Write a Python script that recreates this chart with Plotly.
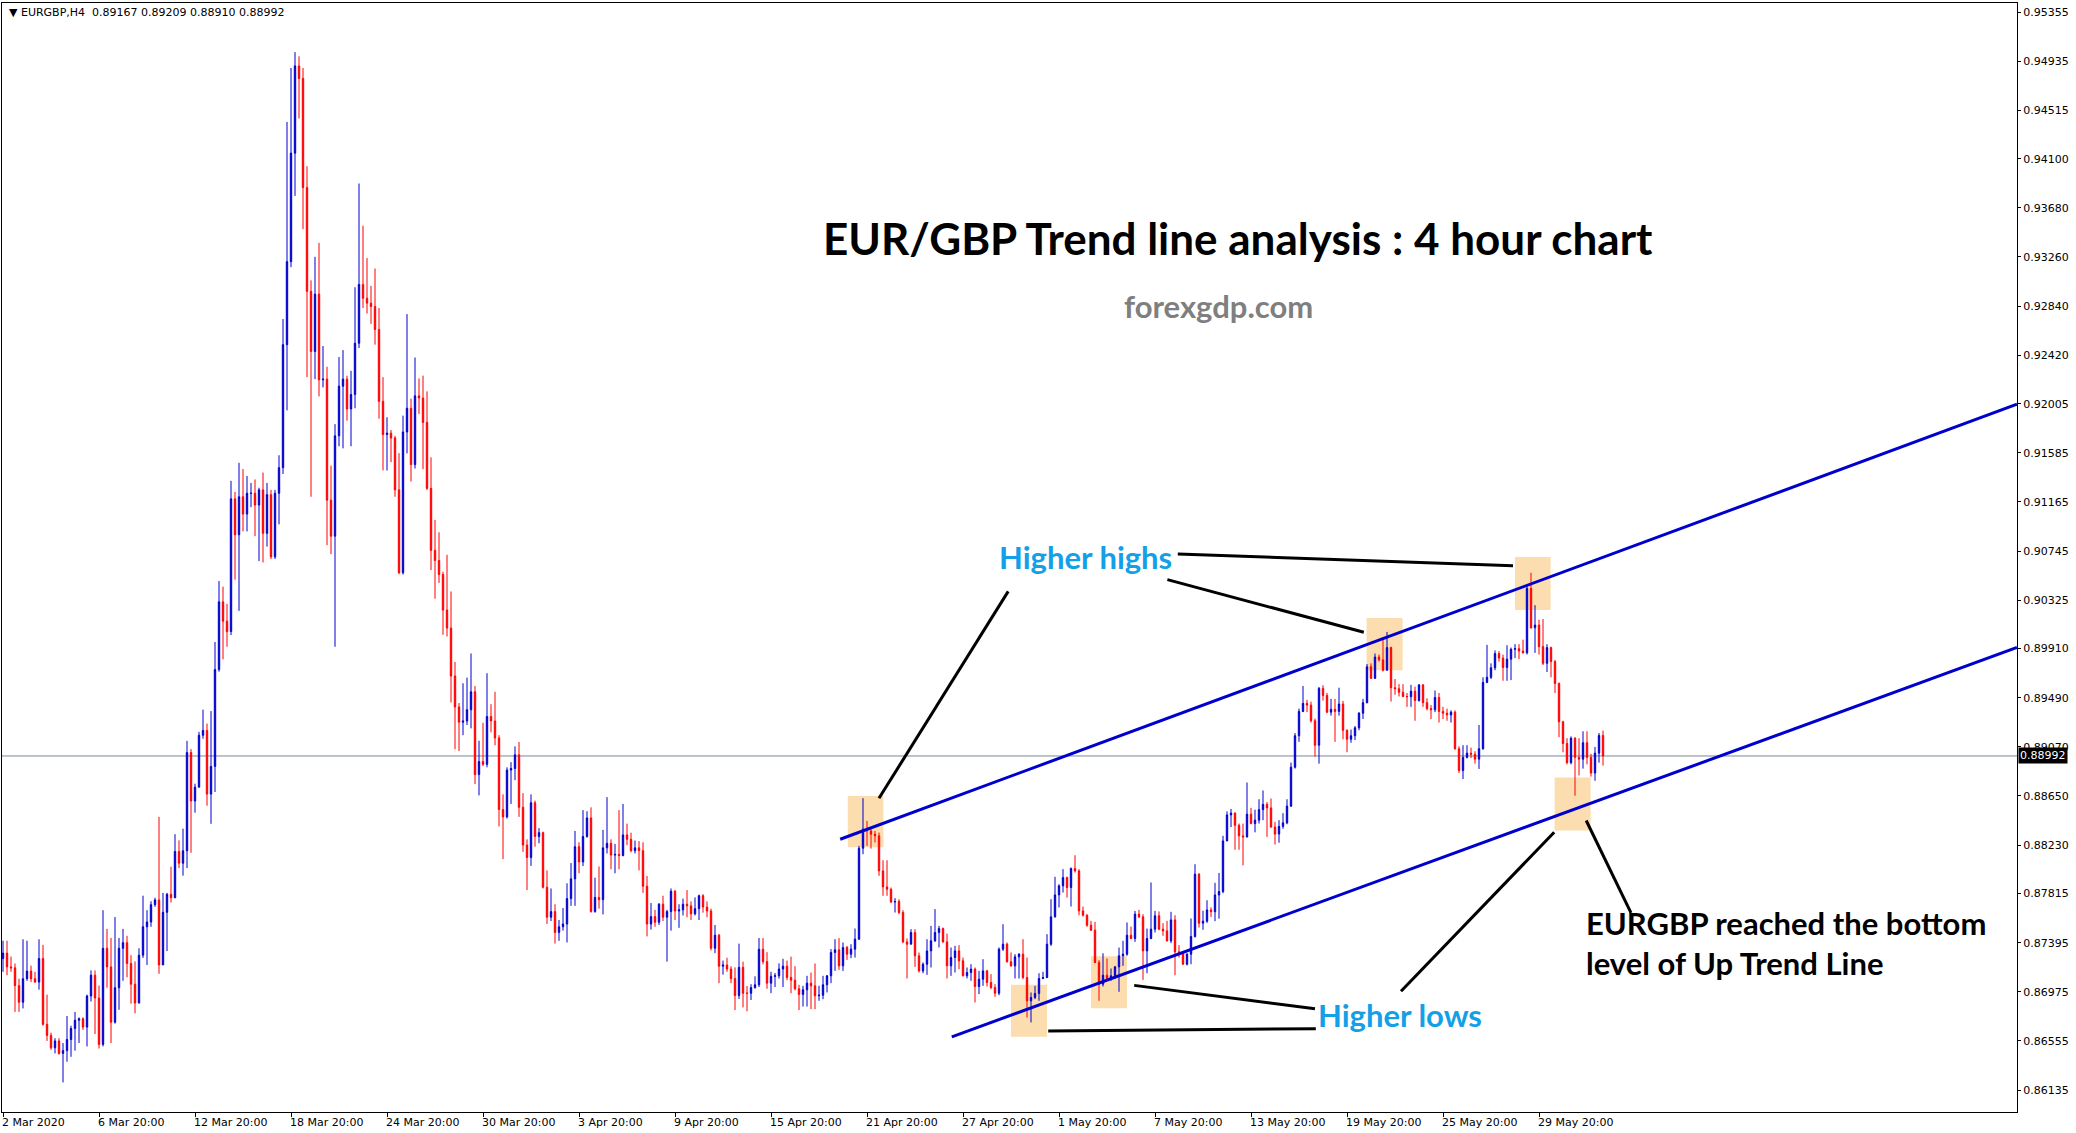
import plotly.graph_objects as go

# ---- EURGBP H4 candles (bar 0 = 2 Mar 2020 20:00) ----
first_open = 0.87259

closes = [
    0.87306, 0.87188, 0.87180, 0.87028, 0.86886, 0.87087, 0.87152, 0.87087, 0.87058, 0.87259,
    0.86697, 0.86602, 0.86496, 0.86555, 0.86448, 0.86472, 0.86567, 0.86661, 0.86732, 0.86744,
    0.86673, 0.86939, 0.87117, 0.86922, 0.86525, 0.87347, 0.87188, 0.86715, 0.87010, 0.87347,
    0.87395, 0.87217, 0.87040, 0.86880, 0.87288, 0.87531, 0.87572, 0.87720, 0.87761, 0.87205,
    0.87655, 0.87809, 0.87779, 0.88175, 0.88075, 0.88181, 0.89021, 0.88607, 0.88725, 0.89169,
    0.89210, 0.88666, 0.88903, 0.89731, 0.90310, 0.90145, 0.90056, 0.91191, 0.90884, 0.91209,
    0.91061, 0.91239, 0.91239, 0.91138, 0.91268, 0.90896, 0.91227, 0.90695, 0.91239, 0.91458,
    0.92510, 0.93220, 0.94148, 0.94894, 0.94787, 0.93853, 0.92966, 0.92451, 0.92942, 0.92209,
    0.92215, 0.91180, 0.90872, 0.91730, 0.92155, 0.92215, 0.91960, 0.92084, 0.92522, 0.93025,
    0.92907, 0.92865, 0.92836, 0.92640, 0.92025, 0.91741, 0.91753, 0.91712, 0.91268, 0.90559,
    0.91763, 0.91966, 0.91484, 0.92072, 0.92053, 0.91845, 0.91281, 0.90751, 0.90664, 0.90544,
    0.90240, 0.90086, 0.89676, 0.89411, 0.89281, 0.89291, 0.89387, 0.89541, 0.88833, 0.88944,
    0.88920, 0.89329, 0.89291, 0.89146, 0.88534, 0.88471, 0.88871, 0.88885, 0.89002, 0.88553,
    0.88230, 0.88124, 0.88592, 0.88303, 0.88336, 0.87869, 0.87613, 0.87661, 0.87483, 0.87531,
    0.87555, 0.87772, 0.87941, 0.88216, 0.88086, 0.88303, 0.88462, 0.87661, 0.87782, 0.87763,
    0.88206, 0.88245, 0.88144, 0.88150, 0.88140, 0.88317, 0.88279, 0.88182, 0.88206, 0.88182,
    0.87878, 0.87555, 0.87618, 0.87570, 0.87724, 0.87613, 0.87661, 0.87835, 0.87666, 0.87676,
    0.87724, 0.87710, 0.87642, 0.87686, 0.87797, 0.87700, 0.87666, 0.87348, 0.87459, 0.87194,
    0.87204, 0.87170, 0.87088, 0.86943, 0.87184, 0.86963, 0.86963, 0.87011, 0.87035, 0.87339,
    0.87233, 0.87049, 0.87107, 0.87112, 0.87170, 0.87194, 0.87098, 0.87074, 0.87001, 0.86953,
    0.86992, 0.87049, 0.87026, 0.86941, 0.86946, 0.87035, 0.87112, 0.87311, 0.87334, 0.87197,
    0.87354, 0.87297, 0.87340, 0.87425, 0.88203, 0.88366, 0.88351, 0.88323, 0.88309, 0.88009,
    0.87872, 0.87852, 0.87744, 0.87747, 0.87653, 0.87402, 0.87382, 0.87482, 0.87283, 0.87154,
    0.87211, 0.87325, 0.87411, 0.87482, 0.87516, 0.87402, 0.87197, 0.87268, 0.87325, 0.87240,
    0.87112, 0.87140, 0.87169, 0.87020, 0.87083, 0.87154, 0.87055, 0.87012, 0.86963, 0.87340,
    0.87382, 0.87231, 0.87197, 0.87274, 0.87297, 0.87097, 0.86898, 0.86926, 0.86961, 0.87089,
    0.87097, 0.87382, 0.87616, 0.87804, 0.87881, 0.87952, 0.87867, 0.88029, 0.88009, 0.87667,
    0.87630, 0.87545, 0.87502, 0.87226, 0.87040, 0.87117, 0.87089, 0.87112, 0.87188, 0.87283,
    0.87297, 0.87459, 0.87431, 0.87639, 0.87616, 0.87325, 0.87431, 0.87511, 0.87625, 0.87511,
    0.87496, 0.87411, 0.87590, 0.87317, 0.87311, 0.87211, 0.87297, 0.87448, 0.87981, 0.87562,
    0.87579, 0.87675, 0.87660, 0.87803, 0.87833, 0.88265, 0.88488, 0.88503, 0.88399, 0.88309,
    0.88300, 0.88494, 0.88414, 0.88443, 0.88533, 0.88578, 0.88548, 0.88384, 0.88324, 0.88390,
    0.88420, 0.88563, 0.88896, 0.89165, 0.89373, 0.89442, 0.89427, 0.89293, 0.89084, 0.89570,
    0.89510, 0.89367, 0.89391, 0.89373, 0.89436, 0.89212, 0.89135, 0.89165, 0.89233, 0.89358,
    0.89448, 0.89755, 0.89656, 0.89838, 0.89814, 0.89725, 0.89919, 0.89576, 0.89567, 0.89537,
    0.89501, 0.89499, 0.89546, 0.89466, 0.89600, 0.89448, 0.89397, 0.89388, 0.89492, 0.89373,
    0.89358, 0.89343, 0.89367, 0.89054, 0.88867, 0.88980, 0.89016, 0.89007, 0.88965, 0.89054,
    0.89621, 0.89665, 0.89746, 0.89868, 0.89829, 0.89749, 0.89820, 0.89904, 0.89910, 0.89889,
    0.89874, 0.90425, 0.90088, 0.90112, 0.89927, 0.89784, 0.89919, 0.89799, 0.89612, 0.89284,
    0.89099, 0.88935, 0.89144, 0.88980, 0.88965, 0.89105, 0.88980, 0.88846, 0.89016, 0.89167,
    0.88992,
]

highs = [
    0.87412, 0.87412, 0.87276, 0.87217, 0.87087, 0.87424, 0.87412, 0.87199, 0.87146, 0.87424,
    0.87377, 0.86951, 0.86626, 0.86578, 0.86578, 0.86537, 0.86768, 0.86685, 0.86803, 0.86756,
    0.86756, 0.86951, 0.87158, 0.87158, 0.87028, 0.87673, 0.87513, 0.87436, 0.87614, 0.87436,
    0.87513, 0.87454, 0.87288, 0.87235, 0.87347, 0.87797, 0.87673, 0.87750, 0.87779, 0.88471,
    0.87821, 0.87821, 0.88045, 0.88323, 0.88270, 0.88370, 0.89121, 0.89051, 0.88755, 0.89198,
    0.89388, 0.89269, 0.89376, 0.89967, 0.90488, 0.90440, 0.90293, 0.91345, 0.91251, 0.91499,
    0.91446, 0.91387, 0.91327, 0.91357, 0.91286, 0.91416, 0.91327, 0.91268, 0.91268, 0.91564,
    0.92729, 0.94415, 0.94876, 0.95012, 0.94976, 0.94876, 0.94036, 0.93060, 0.93261, 0.93380,
    0.92498, 0.92321, 0.91475, 0.91830, 0.92404, 0.92463, 0.92244, 0.92286, 0.93001, 0.93888,
    0.93527, 0.93250, 0.93013, 0.93161, 0.92824, 0.92232, 0.91889, 0.91780, 0.91730, 0.91582,
    0.91903, 0.92771, 0.92048, 0.92400, 0.92221, 0.92245, 0.92110, 0.91546, 0.91011, 0.90905,
    0.90568, 0.90713, 0.90399, 0.89797, 0.89445, 0.89614, 0.89662, 0.89869, 0.89590, 0.89122,
    0.89276, 0.89700, 0.89435, 0.89541, 0.89170, 0.88664, 0.88895, 0.88939, 0.89074, 0.89112,
    0.88674, 0.88279, 0.88664, 0.88610, 0.88375, 0.88345, 0.88013, 0.87859, 0.87724, 0.87589,
    0.87691, 0.87903, 0.88076, 0.88351, 0.88254, 0.88529, 0.88519, 0.88553, 0.87951, 0.88047,
    0.88360, 0.88640, 0.88279, 0.88240, 0.88529, 0.88582, 0.88413, 0.88336, 0.88269, 0.88264,
    0.88254, 0.87965, 0.87734, 0.87676, 0.87734, 0.87797, 0.87676, 0.87859, 0.87845, 0.87724,
    0.87772, 0.87845, 0.87748, 0.87782, 0.87806, 0.87810, 0.87748, 0.87686, 0.87546, 0.87470,
    0.87242, 0.87266, 0.87194, 0.87184, 0.87387, 0.87233, 0.87025, 0.87040, 0.87107, 0.87435,
    0.87435, 0.87314, 0.87146, 0.87136, 0.87218, 0.87257, 0.87242, 0.87276, 0.87194, 0.87035,
    0.87026, 0.87112, 0.87140, 0.87217, 0.87026, 0.87112, 0.87117, 0.87340, 0.87425, 0.87434,
    0.87397, 0.87368, 0.87382, 0.87516, 0.88223, 0.88631, 0.88437, 0.88366, 0.88351, 0.88337,
    0.88100, 0.88100, 0.87867, 0.87776, 0.87767, 0.87673, 0.87431, 0.87511, 0.87511, 0.87311,
    0.87226, 0.87425, 0.87539, 0.87682, 0.87539, 0.87525, 0.87473, 0.87354, 0.87368, 0.87374,
    0.87268, 0.87183, 0.87211, 0.87183, 0.87154, 0.87254, 0.87163, 0.87126, 0.87040, 0.87354,
    0.87553, 0.87397, 0.87311, 0.87297, 0.87305, 0.87425, 0.87268, 0.86969, 0.87026, 0.87134,
    0.87146, 0.87468, 0.87767, 0.87958, 0.87895, 0.88024, 0.87960, 0.88038, 0.88143, 0.88024,
    0.87704, 0.87639, 0.87582, 0.87573, 0.87246, 0.87305, 0.87260, 0.87174, 0.87197, 0.87354,
    0.87411, 0.87568, 0.87533, 0.87667, 0.87676, 0.87639, 0.87516, 0.87910, 0.87667, 0.87662,
    0.87562, 0.87582, 0.87659, 0.87630, 0.87374, 0.87317, 0.87305, 0.87602, 0.88066, 0.87990,
    0.87669, 0.87758, 0.87698, 0.87907, 0.87991, 0.88309, 0.88518, 0.88539, 0.88510, 0.88414,
    0.88414, 0.88765, 0.88548, 0.88533, 0.88622, 0.88697, 0.88598, 0.88628, 0.88429, 0.88443,
    0.88503, 0.88622, 0.88935, 0.89188, 0.89397, 0.89591, 0.89472, 0.89457, 0.89312, 0.89582,
    0.89597, 0.89531, 0.89480, 0.89480, 0.89576, 0.89463, 0.89218, 0.89218, 0.89248, 0.89367,
    0.89480, 0.89778, 0.89784, 0.89868, 0.89859, 0.90008, 0.90053, 0.89927, 0.89650, 0.89606,
    0.89606, 0.89531, 0.89600, 0.89585, 0.89606, 0.89606, 0.89486, 0.89427, 0.89552, 0.89531,
    0.89412, 0.89397, 0.89382, 0.89382, 0.89075, 0.89084, 0.89084, 0.89063, 0.89033, 0.89257,
    0.89665, 0.89942, 0.89784, 0.89895, 0.89889, 0.89859, 0.89939, 0.89919, 0.89948, 0.89948,
    0.89987, 0.90446, 0.90559, 0.90282, 0.90157, 0.90163, 0.89948, 0.89927, 0.89814, 0.89621,
    0.89293, 0.89144, 0.89159, 0.89153, 0.89144, 0.89203, 0.89203, 0.89010, 0.89069, 0.89188,
    0.89209,
]

lows = [
    0.87146, 0.87117, 0.87146, 0.86803, 0.86803, 0.86833, 0.87069, 0.87058, 0.87052, 0.86993,
    0.86685, 0.86555, 0.86478, 0.86448, 0.86437, 0.86200, 0.86377, 0.86419, 0.86472, 0.86537,
    0.86649, 0.86508, 0.86892, 0.86614, 0.86490, 0.86508, 0.87010, 0.86537, 0.86703, 0.86821,
    0.87069, 0.87099, 0.86874, 0.86791, 0.86874, 0.87265, 0.87205, 0.87531, 0.87702, 0.87129,
    0.87205, 0.87324, 0.87738, 0.87779, 0.88033, 0.87968, 0.88033, 0.88164, 0.88507, 0.88743,
    0.89139, 0.88566, 0.88412, 0.88684, 0.89713, 0.89819, 0.89926, 0.90026, 0.90500, 0.90233,
    0.90913, 0.90913, 0.91120, 0.90872, 0.90659, 0.90647, 0.90783, 0.90677, 0.90677, 0.90973,
    0.91404, 0.91948, 0.93173, 0.93782, 0.94444, 0.93498, 0.92232, 0.91209, 0.92215, 0.92067,
    0.92144, 0.90795, 0.90718, 0.89926, 0.91641, 0.91623, 0.91860, 0.91641, 0.91966, 0.92481,
    0.92824, 0.92776, 0.92688, 0.92510, 0.91877, 0.91434, 0.91434, 0.91505, 0.91209, 0.90547,
    0.90544, 0.91580, 0.91339, 0.91450, 0.91918, 0.91445, 0.91267, 0.90582, 0.90337, 0.90472,
    0.90028, 0.90014, 0.89450, 0.89050, 0.89035, 0.89170, 0.89257, 0.89228, 0.88751, 0.88655,
    0.88905, 0.88895, 0.89194, 0.89083, 0.88389, 0.88110, 0.88457, 0.88582, 0.88785, 0.88471,
    0.88172, 0.87845, 0.88052, 0.88216, 0.88245, 0.87859, 0.87555, 0.87580, 0.87387, 0.87411,
    0.87498, 0.87397, 0.87710, 0.87710, 0.87989, 0.88050, 0.88293, 0.87652, 0.87652, 0.87686,
    0.87637, 0.88158, 0.88023, 0.87989, 0.88023, 0.88134, 0.88230, 0.88168, 0.88158, 0.88013,
    0.87821, 0.87449, 0.87507, 0.87531, 0.87546, 0.87580, 0.87233, 0.87498, 0.87589, 0.87522,
    0.87628, 0.87613, 0.87589, 0.87628, 0.87589, 0.87652, 0.87613, 0.87329, 0.87305, 0.87049,
    0.87122, 0.87146, 0.87049, 0.86818, 0.86914, 0.86842, 0.86808, 0.86905, 0.87001, 0.87016,
    0.87209, 0.87001, 0.86963, 0.87016, 0.87088, 0.87016, 0.87074, 0.86963, 0.86987, 0.86818,
    0.86849, 0.86849, 0.86827, 0.86827, 0.86898, 0.86912, 0.86969, 0.87049, 0.87154, 0.87163,
    0.87154, 0.87248, 0.87263, 0.87268, 0.87419, 0.88152, 0.88223, 0.88200, 0.88252, 0.87967,
    0.87796, 0.87796, 0.87733, 0.87653, 0.87639, 0.87391, 0.87089, 0.87382, 0.87188, 0.87140,
    0.87134, 0.87120, 0.87183, 0.87402, 0.87354, 0.87395, 0.87089, 0.87112, 0.87140, 0.87169,
    0.87106, 0.87089, 0.87069, 0.86884, 0.86955, 0.87026, 0.87020, 0.86997, 0.86932, 0.86946,
    0.87325, 0.87226, 0.87190, 0.87089, 0.87089, 0.87083, 0.86755, 0.86713, 0.86912, 0.86898,
    0.87083, 0.87092, 0.87368, 0.87610, 0.87696, 0.87824, 0.87781, 0.87704, 0.87995, 0.87630,
    0.87619, 0.87530, 0.87496, 0.87220, 0.86898, 0.87020, 0.87083, 0.87069, 0.87089, 0.86975,
    0.87197, 0.87283, 0.87425, 0.87402, 0.87605, 0.87077, 0.87134, 0.87425, 0.87482, 0.87502,
    0.87454, 0.87405, 0.87391, 0.87117, 0.87268, 0.87206, 0.87200, 0.87211, 0.87439, 0.87525,
    0.87505, 0.87564, 0.87615, 0.87579, 0.87600, 0.87818, 0.88265, 0.88384, 0.88190, 0.88190,
    0.88056, 0.88294, 0.88408, 0.88339, 0.88414, 0.88443, 0.88300, 0.88378, 0.88235, 0.88250,
    0.88369, 0.88408, 0.88557, 0.88884, 0.89113, 0.89367, 0.89367, 0.89278, 0.88986, 0.88926,
    0.89466, 0.89358, 0.89337, 0.89113, 0.89337, 0.89135, 0.89024, 0.89105, 0.89129, 0.89212,
    0.89308, 0.89442, 0.89650, 0.89650, 0.89799, 0.89715, 0.89725, 0.89457, 0.89516, 0.89501,
    0.89495, 0.89412, 0.89412, 0.89293, 0.89457, 0.89412, 0.89382, 0.89308, 0.89367, 0.89278,
    0.89308, 0.89293, 0.89278, 0.89045, 0.88846, 0.88795, 0.88971, 0.88974, 0.88926, 0.88881,
    0.89045, 0.89615, 0.89650, 0.89725, 0.89799, 0.89635, 0.89635, 0.89641, 0.89829, 0.89820,
    0.89868, 0.89860, 0.90080, 0.89874, 0.89859, 0.89770, 0.89710, 0.89665, 0.89531, 0.89153,
    0.89024, 0.88920, 0.88920, 0.88652, 0.88825, 0.88884, 0.88920, 0.88816, 0.88780, 0.88935,
    0.88910,
]

# time axis labels (one every 24 bars) and price axis labels
time_ticks = [0, 24, 48, 72, 96, 120, 144, 168, 192, 216, 240, 264, 288, 312, 336, 360, 384]
time_labels = ["2 Mar 2020", "6 Mar 20:00", "12 Mar 20:00", "18 Mar 20:00", "24 Mar 20:00",
               "30 Mar 20:00", "3 Apr 20:00", "9 Apr 20:00", "15 Apr 20:00", "21 Apr 20:00",
               "27 Apr 20:00", "1 May 20:00", "7 May 20:00", "13 May 20:00", "19 May 20:00",
               "25 May 20:00", "29 May 20:00"]
price_ticks = [0.95355, 0.94935, 0.94515, 0.94100, 0.93680, 0.93260, 0.92840, 0.92420,
               0.92005, 0.91585, 0.91165, 0.90745, 0.90325, 0.89910, 0.89490, 0.89070,
               0.88650, 0.88230, 0.87815, 0.87395, 0.86975, 0.86555, 0.86135]

# drawn analysis objects (bar index, price)
upper_trend = [(209.3, 0.8828), (503.5, 0.9200)]
lower_trend = [(237.2, 0.8659), (503.5, 0.8992)]
touch_boxes = [  # x0, x1, y0, y1
    (211.2, 220.1, 0.88212, 0.88650),
    (252.0, 261.0, 0.86590, 0.87035),
    (272.0, 281.0, 0.86835, 0.87280),
    (340.9, 349.9, 0.89725, 0.90172),
    (378.0, 386.9, 0.90240, 0.90693),
    (387.9, 396.9, 0.88354, 0.88807),
]
pointer_lines = [
    ((219.0, 0.8863), (251.3, 0.9040)),
    ((291.1, 0.9050), (340.2, 0.9005)),
    ((293.7, 0.9072), (377.5, 0.9062)),
    ((282.8, 0.8703), (328.0, 0.8683)),
    ((261.3, 0.8664), (328.2, 0.8666)),
    ((349.5, 0.8698), (387.8, 0.8834)),
    ((395.8, 0.8844), (407.0, 0.8765)),
]

BULL = "#0000CD"
BEAR = "#FF0000"
CALLOUT = "#13A0E6"

opens = [first_open] + closes[:-1]
bars = list(range(len(closes)))
highs = [max(h, o, c) for h, o, c in zip(highs, opens, closes)]
lows = [min(l, o, c) for l, o, c in zip(lows, opens, closes)]

fig = go.Figure(go.Candlestick(
    x=bars, open=opens, high=highs, low=lows, close=closes,
    increasing=dict(line=dict(color=BULL, width=1), fillcolor=BULL),
    decreasing=dict(line=dict(color=BEAR, width=1), fillcolor=BEAR),
    whiskerwidth=0, hoverinfo="skip", showlegend=False,
))

shapes = []
for x0, x1, y0, y1 in touch_boxes:
    shapes.append(dict(type="rect", xref="x", yref="y", x0=x0, x1=x1, y0=y0, y1=y1,
                       fillcolor="#FCDDB0", line=dict(width=0), layer="below"))
shapes.append(dict(type="line", xref="paper", yref="y", x0=0, x1=1, y0=closes[-1], y1=closes[-1],
                   line=dict(color="#778899", width=1), layer="below"))
for (xa, ya), (xb, yb) in [upper_trend, lower_trend]:
    shapes.append(dict(type="line", xref="x", yref="y", x0=xa, y0=ya, x1=xb, y1=yb,
                       line=dict(color=BULL, width=3)))
for (xa, ya), (xb, yb) in pointer_lines:
    shapes.append(dict(type="line", xref="x", yref="y", x0=xa, y0=ya, x1=xb, y1=yb,
                       line=dict(color="black", width=3)))

ann = []
for b, t in zip(time_ticks, time_labels):
    ann.append(dict(x=b, y=0, xref="x", yref="paper", text=t, showarrow=False,
                    xanchor="left", yanchor="top", xshift=-3, yshift=-2,
                    font=dict(family="DejaVu Sans", size=11, color="black")))
header = "\u25BC EURGBP,H4\u00a0\u00a0{:.5f} {:.5f} {:.5f} {:.5f}".format(
    opens[-1], highs[-1], lows[-1], closes[-1])
ann.append(dict(x=0.0025, y=0.991, xref="paper", yref="paper", text=header, showarrow=False,
                xanchor="left", yanchor="middle",
                font=dict(family="DejaVu Sans", size=11, color="black")))
ann.append(dict(x=1, y=closes[-1], xref="paper", yref="y", text="{:.5f}".format(closes[-1]),
                showarrow=False, xanchor="left", yanchor="middle", xshift=1,
                bgcolor="black", borderpad=1,
                font=dict(family="DejaVu Sans", size=11, color="white")))


def label(x, y, text, size, color, xanchor="center", align="center"):
    ann.append(dict(x=x, y=y, xref="paper", yref="paper", text=text, showarrow=False,
                    xanchor=xanchor, yanchor="middle", align=align,
                    font=dict(family="Lato", size=size, color=color)))


label(0.6133, 0.7881, "<b>EUR/GBP Trend line analysis : 4 hour chart</b>", 44, "black")
label(0.6035, 0.7265, "<b>forexgdp.com</b>", 31, "#7F7F7F")
label(0.5378, 0.5002, "<b>Higher highs</b>", 31, CALLOUT)
label(0.6940, 0.0876, "<b>Higher lows</b>", 31, CALLOUT)
label(0.7850, 0.1526, "<b>EURGBP reached the bottom<br>level of Up Trend Line</b>", 31, "black",
      xanchor="left", align="left")

fig.update_layout(
    width=2076, height=1133,
    margin=dict(l=2, r=59, t=3, b=21, pad=0),
    paper_bgcolor="white", plot_bgcolor="white",
    boxgap=0.5, showlegend=False,
    font=dict(family="DejaVu Sans", size=11, color="black"),
    shapes=shapes, annotations=ann,
    xaxis=dict(range=[-0.25, 503.5], rangeslider=dict(visible=False), showgrid=False,
               zeroline=False, showline=True, mirror=True, linecolor="black", linewidth=1,
               tickvals=time_ticks, ticks="outside", ticklen=4, tickcolor="black",
               showticklabels=False),
    yaxis=dict(range=[0.85947, 0.95432], side="right", showgrid=False, zeroline=False,
               showline=True, mirror=True, linecolor="black", linewidth=1,
               tickvals=price_ticks, ticktext=["{:.5f}".format(p) for p in price_ticks],
               ticks="outside", ticklen=3, tickcolor="black",
               tickfont=dict(family="DejaVu Sans", size=11, color="black")),
)

fig.write_html("out.html", config={"displayModeBar": False},
               post_script="document.body.style.margin='0';")
